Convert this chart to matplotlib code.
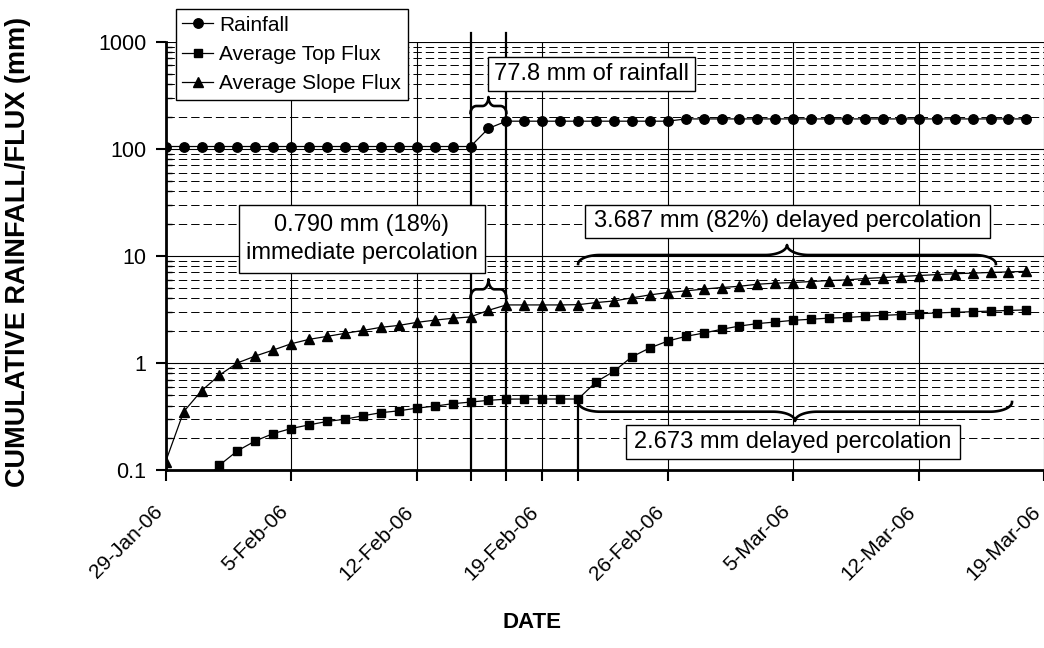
import numpy as np
import matplotlib
matplotlib.use("Agg")
import matplotlib.pyplot as plt
from matplotlib.patches import Rectangle
from matplotlib.lines import Line2D
from matplotlib.transforms import IdentityTransform, ScaledTranslation
from matplotlib.ticker import FixedLocator, NullFormatter

plt.rcParams['font.family'] = ['Liberation Sans', 'DejaVu Sans']

W, H = 1044, 648

# days since 29-Jan-06
days = np.arange(49)

rainfall = [105, 105, 105, 105, 105, 105, 105, 105, 105, 105,
            105, 105, 105, 105, 105, 105, 105, 105, 155, 181,
            181, 181, 181, 181, 181, 181, 181, 181, 181, 190,
            190, 190, 190, 190, 190, 190, 190, 190, 190, 190,
            190, 190, 190, 190, 190, 190, 190, 190, 190]

top_flux = [np.nan, np.nan, 0.075, 0.111, 0.151, 0.187, 0.219, 0.244, 0.264, 0.284,
            0.298, 0.321, 0.343, 0.357, 0.378, 0.395, 0.416, 0.431, 0.447, 0.459,
            0.460, 0.460, 0.460, 0.460, 0.664, 0.836, 1.14, 1.38, 1.60, 1.77,
            1.90, 2.06, 2.21, 2.33, 2.41, 2.50, 2.56, 2.62, 2.66, 2.72,
            2.78, 2.83, 2.88, 2.93, 2.97, 3.01, 3.05, 3.09, 3.13]

slope_flux = [0.12, 0.35, 0.55, 0.77, 1.00, 1.16, 1.32, 1.51, 1.66, 1.77,
              1.89, 2.01, 2.15, 2.24, 2.39, 2.51, 2.61, 2.69, 3.10, 3.48,
              3.48, 3.48, 3.48, 3.50, 3.66, 3.79, 4.05, 4.32, 4.54, 4.71,
              4.89, 5.06, 5.20, 5.43, 5.56, 5.63, 5.76, 5.88, 5.97, 6.14,
              6.27, 6.41, 6.55, 6.68, 6.80, 6.90, 7.00, 7.08, 7.17]

week_days = [0, 7, 14, 21, 28, 35, 42, 49]
week_labels = ['29-Jan-06', '5-Feb-06', '12-Feb-06', '19-Feb-06',
               '26-Feb-06', '5-Mar-06', '12-Mar-06', '19-Mar-06']
event_days = [17, 19, 23]   # 15-Feb, 17-Feb, 21-Feb

fig = plt.figure(figsize=(W / 100, H / 100), dpi=100)
ax_l, ax_t, ax_r, ax_b = 165.7, 41.7, 1044.3, 470.0
ax = fig.add_axes([ax_l / W, 1 - ax_b / H, (ax_r - ax_l) / W, (ax_b - ax_t) / H])
ax.set_yscale('log')
ax.set_xlim(0, 49)
ax.set_ylim(0.1, 1000)
ppd = (ax_b - ax_t) / 4.0   # pixels per decade

# grid
for d in week_days:
    ax.axvline(d, color='black', lw=0.8, zorder=1)
for e in range(-1, 4):
    ax.axhline(10.0 ** e, color='black', lw=0.8, zorder=1)
for e in range(-1, 3):
    for m in range(2, 10):
        ax.axhline(m * 10.0 ** e, color='black', lw=0.7, dashes=(8.6, 4.1), zorder=1)

# series
ax.plot(days, rainfall, color='black', lw=0.9, marker='o', ms=6.8, label='Rainfall', zorder=4)
ax.plot(days, top_flux, color='black', lw=0.9, marker='s', ms=5.8, label='Average Top Flux', zorder=4)
ax.plot(days, slope_flux, color='black', lw=0.9, marker='^', ms=7, label='Average Slope Flux', zorder=4)

# event lines
top_ext = 1000 * 10 ** (8.7 / ppd)
for d in event_days[:2]:
    ax.plot([d, d], [0.1, top_ext], color='black', lw=1.6, clip_on=False, zorder=3)
ax.plot([event_days[2]] * 2, [0.1, top_flux[event_days[2]]], color='black', lw=1.6, zorder=3)

# ticks
ax.xaxis.set_major_locator(FixedLocator(week_days + event_days))
ax.set_xticklabels(week_labels + [''] * len(event_days))
ax.set_yticks([0.1, 1, 10, 100, 1000])
ax.set_yticklabels(['0.1', '1', '10', '100', '1000'])
ax.yaxis.set_minor_locator(FixedLocator([m * 10.0 ** e for e in range(-1, 3) for m in range(2, 10)]))
ax.yaxis.set_minor_formatter(NullFormatter())
ax.tick_params(axis='x', direction='out', length=8, width=1.5, labelsize=15, pad=15)
ax.tick_params(axis='y', which='major', direction='out', length=7, width=1.5, labelsize=15.5, pad=7)
ax.tick_params(axis='y', which='minor', direction='in', length=4, width=1)
shift = ScaledTranslation(-13 / 100, 0, fig.dpi_scale_trans)
for lab in ax.get_xticklabels():
    lab.set_rotation(45)
    lab.set_ha('right')
    lab.set_va('top')
    lab.set_rotation_mode('anchor')
    lab.set_transform(lab.get_transform() + shift)

for s in ['top', 'right']:
    ax.spines[s].set_visible(False)
for s in ['left', 'bottom']:
    ax.spines[s].set_linewidth(2)
    ax.spines[s].set_zorder(5)

fig.text(18 / W, 1 - 252 / H, 'CUMULATIVE RAINFALL/FLUX (mm)', rotation=90,
         ha='center', va='center', fontsize=19.5, fontweight='bold')
fig.text(532 / W, 1 - 622 / H, 'DATE', ha='center', va='center', fontsize=16, fontweight='bold')

leg = fig.legend(loc='upper left', bbox_to_anchor=(175.7 / W, 1 - 9.3 / H), borderaxespad=0,
                 fontsize=15, fancybox=False, edgecolor='black', framealpha=1,
                 handlelength=1.5, handletextpad=0.3, labelspacing=0.5, borderpad=0.3)
leg.get_frame().set_linewidth(1.0)


def xpix(d):
    return ax.transData.transform((d, 1))[0]


def brace(x0, x1, y_end, y_flat, y_tip, r):
    # curly brace in image pixels (y from top)
    xm = (x0 + x1) / 2
    t = np.linspace(0, np.pi / 2, 30)
    lx = np.concatenate([x0 + r - r * np.cos(t), xm - r + r * np.sin(t)])
    ly = np.concatenate([y_end + (y_flat - y_end) * np.sin(t),
                         y_flat + (y_tip - y_flat) * (1 - np.cos(t))])
    xs = np.concatenate([lx, (2 * xm - lx)[::-1]])
    ys = np.concatenate([ly, ly[::-1]])
    fig.add_artist(Line2D(xs, H - ys, color='black', lw=1.9,
                          transform=IdentityTransform(), zorder=4))


def box(x0, y0, x1, y1, text):
    fig.add_artist(Rectangle((x0 / W, 1 - y1 / H), (x1 - x0) / W, (y1 - y0) / H,
                             transform=fig.transFigure, facecolor='white',
                             edgecolor='black', lw=1, zorder=5))
    fig.text((x0 + x1) / 2 / W, 1 - (y0 + y1) / 2 / H, text, ha='center', va='center',
             fontsize=17, zorder=6, linespacing=1.35)


brace(xpix(17), xpix(19), 113, 106, 97, 6)
brace(xpix(17), xpix(19), 298, 289.3, 279.3, 6)
brace(xpix(23), xpix(46.3), 264, 255, 245, 22)
brace(xpix(23), xpix(47.2), 402, 411.7, 421, 22)

box(488, 57, 695, 91, '77.8 mm of rainfall')
box(239, 205, 485, 273, '0.790 mm (18%)\nimmediate percolation')
box(585, 205, 990, 238, '3.687 mm (82%) delayed percolation')
box(626, 425, 960, 459, '2.673 mm delayed percolation')

fig.savefig('out.png', dpi=100)
